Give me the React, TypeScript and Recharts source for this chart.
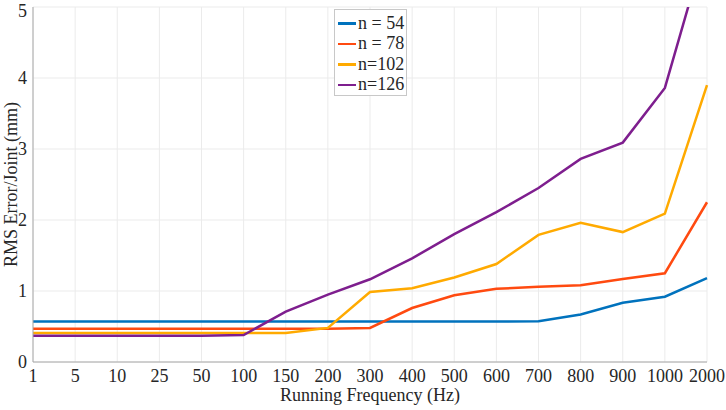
import { LineChart, Line, XAxis, YAxis, CartesianGrid, Legend, Label } from 'recharts'

const frequencies = ['1', '5', '10', '25', '50', '100', '150', '200', '300', '400', '500', '600', '700', '800', '900', '1000', '2000']

const n54 = [0.57, 0.57, 0.57, 0.57, 0.57, 0.57, 0.57, 0.57, 0.57, 0.57, 0.57, 0.57, 0.575, 0.67, 0.835, 0.92, 1.18]
const n78 = [0.47, 0.47, 0.47, 0.47, 0.47, 0.47, 0.47, 0.47, 0.48, 0.76, 0.94, 1.03, 1.06, 1.08, 1.17, 1.25, 2.25]
const n102 = [0.41, 0.41, 0.41, 0.41, 0.41, 0.41, 0.41, 0.48, 0.985, 1.04, 1.19, 1.38, 1.79, 1.96, 1.83, 2.09, 3.9]
const n126 = [0.37, 0.37, 0.37, 0.37, 0.37, 0.38, 0.71, 0.95, 1.165, 1.46, 1.8, 2.11, 2.45, 2.86, 3.09, 3.86, 5.92]

const yTicks = [0, 1, 2, 3, 4, 5]

const series = [
  { key: 'n54', name: 'n = 54', color: '#0072BD' },
  { key: 'n78', name: 'n = 78', color: '#FF4A10' },
  { key: 'n102', name: 'n=102', color: '#FFAA00' },
  { key: 'n126', name: 'n=126', color: '#7E1E8E' },
]

const data = frequencies.map((f, i) => ({
  freq: f,
  n54: n54[i],
  n78: n78[i],
  n102: n102[i],
  n126: n126[i],
}))

const font = "'Times New Roman', 'Liberation Serif', 'DejaVu Serif', serif"
const tickStyle = { fill: '#262626', fontSize: 18, fontFamily: font }

function LegendBox() {
  return (
    <div
      style={{
        position: 'absolute',
        left: 334,
        top: 9,
        width: 73,
        height: 87,
        boxSizing: 'border-box',
        border: '1px solid #c8c8c8',
        background: '#fff',
        fontFamily: font,
        fontSize: 18,
        color: '#262626',
        padding: '3px 0 0 3px',
      }}
    >
      {series.map((s) => (
        <div key={s.key} style={{ display: 'flex', alignItems: 'center', height: 20.5 }}>
          <span style={{ display: 'inline-block', width: 18, height: 2.5, background: s.color, marginRight: 2 }} />
          <span style={{ whiteSpace: 'pre' }}>{s.name}</span>
        </div>
      ))}
    </div>
  )
}

export default function App() {
  return (
    <div style={{ position: 'absolute', left: 0, top: 0, width: 726, height: 410, background: '#fff', fontFamily: font }}>
      <LineChart width={726} height={410} data={data} margin={{ top: 7, right: 19, bottom: 0, left: 3 }}>
        <CartesianGrid stroke="#ebebeb" strokeWidth={1} />
        <XAxis
          dataKey="freq"
          height={48}
          tick={tickStyle}
          tickLine={false}
          tickMargin={1}
          axisLine={{ stroke: '#a8a8a8' }}
          interval={0}
        >
          <Label
            value="Running Frequency (Hz)"
            position="insideBottom"
            offset={9}
            style={{ fill: '#262626', fontSize: 18, fontFamily: font }}
          />
        </XAxis>
        <YAxis
          width={30}
          domain={[0, 5]}
          ticks={yTicks}
          allowDataOverflow
          tick={tickStyle}
          tickLine={false}
          tickMargin={0}
          axisLine={{ stroke: '#a8a8a8' }}
        >
          <Label
            value="RMS Error/Joint (mm)"
            angle={-90}
            position="insideLeft"
            offset={8}
            style={{ textAnchor: 'middle', fill: '#262626', fontSize: 18, fontFamily: font }}
          />
        </YAxis>
        <Legend content={() => <LegendBox />} wrapperStyle={{ position: 'absolute', left: 0, top: 0, width: 0, height: 0 }} />
        {series.map((s) => (
          <Line
            key={s.key}
            type="linear"
            dataKey={s.key}
            name={s.name}
            stroke={s.color}
            strokeWidth={2.5}
            dot={false}
            activeDot={false}
            isAnimationActive={false}
          />
        ))}
      </LineChart>
    </div>
  )
}
